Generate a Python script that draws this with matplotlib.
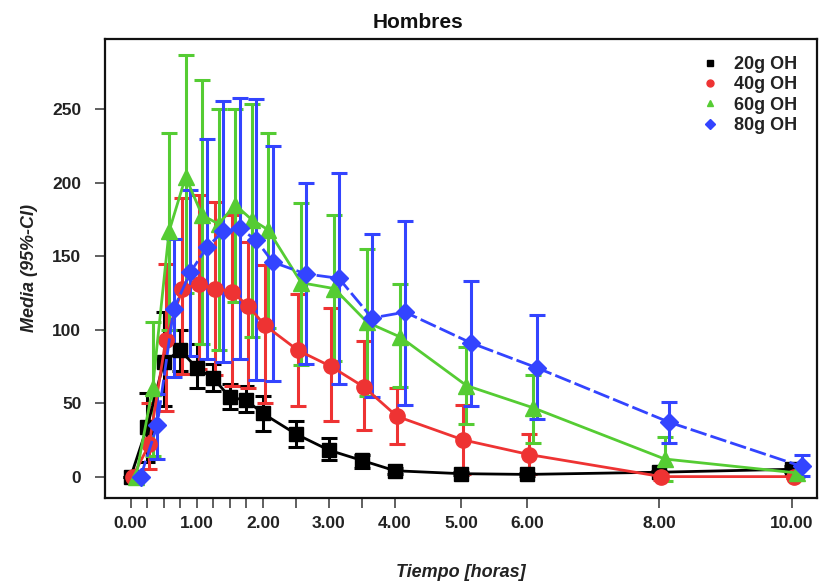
import matplotlib
matplotlib.use("Agg")
import matplotlib.pyplot as plt
from matplotlib.lines import Line2D

plt.rcParams["font.family"] = ["Liberation Sans", "DejaVu Sans"]

# Sampling times (hours)
times = [0, 0.25, 0.5, 0.75, 1, 1.25, 1.5, 1.75, 2, 2.5, 3, 3.5, 4, 5, 6, 8, 10]
labelled_times = [0, 1, 2, 3, 4, 5, 6, 8, 10]

doses = ["20g OH", "40g OH", "60g OH", "80g OH"]

# Mean and 95% confidence limits per dose
mean_20 = [0, 34, 78, 86, 74, 67, 54, 52, 43, 29, 18, 11, 4, 2, 1.5, 3, 5]
low_20 = [0, 10, 48, 72, 60, 58, 46, 44, 31, 20, 11, 6, 2, 1, 0.5, 2, 3]
high_20 = [0, 57, 112, 100, 90, 77, 63, 62, 55, 38, 26, 15, 6, 3, 2.5, 4, 7]

mean_40 = [0, 22, 93, 128, 131, 128, 126, 116, 103, 86, 75, 61, 41, 25, 15, 0, 0]
low_40 = [0, 5, 45, 70, 73, 69, 62, 60, 50, 48, 38, 32, 22, 2, 2, -2, -1]
high_40 = [0, 50, 145, 190, 192, 187, 178, 160, 144, 124, 115, 92, 60, 49, 29, 2, 1]

mean_60 = [0, 60, 167, 204, 178, 172, 185, 175, 168, 132, 128, 105, 95, 62, 47, 12, 2.5]
low_60 = [0, 14, 100, 125, 90, 86, 119, 95, 101, 76, 79, 55, 61, 36, 23, -3, 0]
high_60 = [0, 105, 234, 287, 270, 250, 250, 254, 234, 186, 178, 155, 131, 88, 69, 27, 6]

mean_80 = [0, 35, 114, 139, 156, 167, 169, 161, 146, 138, 135, 108, 112, 91, 74, 37, 7]
low_80 = [0, 12, 68, 82, 80, 78, 80, 66, 65, 77, 63, 54, 49, 48, 39, 23, 0.5]
high_80 = [0, 56, 162, 195, 230, 256, 258, 257, 225, 200, 207, 165, 174, 133, 110, 51, 15]

series = [
    (mean_20, low_20, high_20),
    (mean_40, low_40, high_40),
    (mean_60, low_60, high_60),
    (mean_80, low_80, high_80),
]

colors = ["#000000", "#EE3333", "#55CC33", "#3344FF"]
markers = ["s", "o", "^", "D"]
msizes = [10, 11, 12, 9]
dodge = [0.0, 0.03, 0.08, 0.15]
styles = ["-", "-", "-", (0, (6, 1.5))]

fig = plt.figure(figsize=(8.2, 5.81), dpi=100)
ax = fig.add_axes([0.128, 0.143, 0.868, 0.790])

for (m, lo, hi), c, mk, ms, dx, ls in zip(series, colors, markers, msizes, dodge, styles):
    x = [t + dx for t in times]
    yerr = [[mi - l for mi, l in zip(m, lo)], [h - mi for mi, h in zip(m, hi)]]
    ax.errorbar(x, m, yerr=yerr, fmt="none", ecolor=c, elinewidth=2.2,
                capsize=6, capthick=2.2, zorder=2)
    ax.plot(x, m, color=c, linestyle=ls, linewidth=2.0, marker=mk,
            markersize=ms, markeredgecolor=c, markerfacecolor=c, zorder=3)

ax.set_xlim(-0.39, 10.38)
ax.set_ylim(-14.5, 298)

ax.set_xticks(times)
ax.set_xticklabels([f"{t:.2f}" if t in labelled_times else "" for t in times])
ax.set_yticks([0, 50, 100, 150, 200, 250])

ax.tick_params(axis="both", direction="out", length=7, width=1.2, colors="#444444",
               labelcolor="#222222", labelsize=12.5)
ax.tick_params(axis="y", pad=10)
ax.tick_params(axis="x", pad=6)
for lab in ax.get_xticklabels() + ax.get_yticklabels():
    lab.set_fontweight("bold")

for sp in ax.spines.values():
    sp.set_linewidth(1.6)
    sp.set_color("#111111")

ax.set_xlabel("Tiempo [horas]", fontsize=13, fontweight="bold", style="italic",
              labelpad=24, color="#222222")
ax.set_ylabel("Media (95%-CI)", fontsize=13, fontweight="bold", style="italic",
              labelpad=10, color="#222222")
ax.set_title("Hombres", fontsize=15, fontweight="bold", x=0.44, pad=8, color="#111111")

handles = [Line2D([], [], linestyle="none", marker=mk, color=c, markersize=5)
           for mk, c in zip(markers, colors)]
leg = ax.legend(handles, doses, loc="upper right", bbox_to_anchor=(0.995, 0.998),
                frameon=False, handletextpad=0.8, labelspacing=0.18, handlelength=1.0,
                prop={"weight": "bold", "size": 13})
for txt in leg.get_texts():
    txt.set_color("#222222")

fig.savefig("out.png", dpi=100)
